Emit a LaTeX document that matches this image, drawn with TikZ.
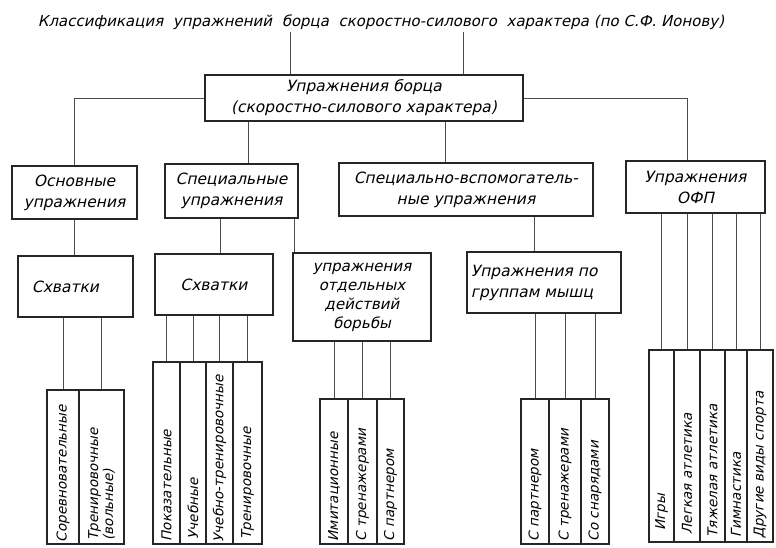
\documentclass[tikz,border=0pt]{standalone}
\usepackage{fontspec}
\setmainfont{DejaVu Sans}[FakeSlant=0.22]
\usetikzlibrary{calc}
\begin{document}
\begin{tikzpicture}[x=1pt,y=-1pt,
  box/.style={draw=black!85, line width=1.3pt, inner sep=2pt, align=center, font=\fontsize{15.5}{21}\selectfont},
  cell/.style={draw=black!85, line width=1.2pt, inner sep=0pt},
  vtext/.style={rotate=90, anchor=west, inner sep=0pt, align=left, font=\fontsize{13.6}{15}\selectfont},
  conn/.style={draw=black!70, line width=0.9pt},
  ttl/.style={font=\fontsize{15}{17}\selectfont, inner sep=2pt}]
\useasboundingbox (0,0) rectangle (776,547);
\fill[white] (0,0) rectangle (776,547);

% title
\node[ttl] (title) at (381,22) {Классификация\ \ упражнений\ \ борца\ \ скоростно-силового\ \ характера (по С.Ф. Ионову)};

% main box
\node[box, minimum width=318pt, minimum height=46pt] (main) at (364,98) {Упражнения борца\\(скоростно-силового характера)};

% level 2
\node[box, minimum width=125pt, minimum height=53pt] (A) at (74.5,192.5) {Основные\\упражнения};
\node[box, minimum width=133pt, minimum height=54pt] (B) at (231.5,191) {Специальные\\упражнения};
\node[box, minimum width=254pt, minimum height=53pt] (C) at (466,189.5) {Специально-вспомогатель-\\ные упражнения};
\node[box, minimum width=139pt, minimum height=52pt] (D) at (695.5,187) {Упражнения\\ОФП};

% level 3
\node[box, minimum width=115pt, minimum height=61pt] (S1) at (75.5,286.5) {\hspace*{-20pt}Схватки};
\node[box, minimum width=118pt, minimum height=61pt] (S2) at (214,284.5) {Схватки};
\node[box, minimum width=138pt, minimum height=88pt, font=\fontsize{15}{19}\selectfont] (E) at (362,297) {упражнения\\отдельных\\действий\\борьбы};
\node[box, minimum width=154pt, minimum height=61pt, align=left] (F) at (544,282.5) {Упражнения по\\группам мышц\hspace*{24pt}};

% lower group 1
\node[cell, minimum width=32pt, minimum height=154pt] (L1a) at (63,467) {};
\node[cell, minimum width=45pt, minimum height=154pt] (L1b) at (101.5,467) {};
% lower group 2
\node[cell, minimum width=27pt, minimum height=182pt] (L2a) at (166.5,453) {};
\node[cell, minimum width=26pt, minimum height=182pt] (L2b) at (193,453) {};
\node[cell, minimum width=27pt, minimum height=182pt] (L2c) at (219.5,453) {};
\node[cell, minimum width=29pt, minimum height=182pt] (L2d) at (247.5,453) {};
% lower group 3
\node[cell, minimum width=28pt, minimum height=145pt] (L3a) at (334,471.5) {};
\node[cell, minimum width=29pt, minimum height=145pt] (L3b) at (362.5,471.5) {};
\node[cell, minimum width=27pt, minimum height=145pt] (L3c) at (390.5,471.5) {};
% lower group 4
\node[cell, minimum width=28pt, minimum height=145pt] (L4a) at (535,471.5) {};
\node[cell, minimum width=32pt, minimum height=145pt] (L4b) at (565,471.5) {};
\node[cell, minimum width=28pt, minimum height=145pt] (L4c) at (595,471.5) {};
% lower group 5
\node[cell, minimum width=25pt, minimum height=192pt] (L5a) at (661.5,446) {};
\node[cell, minimum width=26pt, minimum height=192pt] (L5b) at (687,446) {};
\node[cell, minimum width=25pt, minimum height=192pt] (L5c) at (712.5,446) {};
\node[cell, minimum width=22pt, minimum height=192pt] (L5d) at (736,446) {};
\node[cell, minimum width=26pt, minimum height=192pt] (L5e) at (760,446) {};

% vertical texts
\node[vtext] (T1a) at ([yshift=2pt]L1a.south) {Соревновательные};
\node[vtext] (T1b) at ([yshift=4pt]L1b.south) {Тренировочные\\(вольные)};
\node[vtext] (T2a) at ([yshift=3pt]L2a.south) {Показательные};
\node[vtext] (T2b) at ([yshift=5pt]L2b.south) {Учебные};
\node[vtext] (T2c) at ([yshift=2pt]L2c.south) {Учебно-тренировочные};
\node[vtext] (T2d) at ([yshift=5pt]L2d.south) {Тренировочные};
\node[vtext] (T3a) at ([yshift=3pt]L3a.south) {Имитационные};
\node[vtext] (T3b) at ([yshift=3pt]L3b.south) {С тренажерами};
\node[vtext] (T3c) at ([yshift=3pt]L3c.south) {С партнером};
\node[vtext] (T4a) at ([yshift=3pt]L4a.south) {С партнером};
\node[vtext] (T4b) at ([yshift=3pt]L4b.south) {С тренажерами};
\node[vtext] (T4c) at ([yshift=3pt]L4c.south) {Со снарядами};
\node[vtext] (T5a) at ([yshift=12pt]L5a.south) {Игры};
\node[vtext] (T5b) at ([yshift=8pt]L5b.south) {Легкая атлетика};
\node[vtext] (T5c) at ([yshift=5pt]L5c.south) {Тяжелая атлетика};
\node[vtext] (T5d) at ([yshift=5pt]L5d.south) {Гимнастика};
\node[vtext] (T5e) at ([yshift=4pt]L5e.south) {Другие виды спорта};

% connectors: title to main
\draw[conn] ([xshift=-74pt]main.north) -- ([xshift=-74pt]main.north |- title.south);
\draw[conn] ([xshift=99pt]main.north) -- ([xshift=99pt]main.north |- title.south);
% main to level 2
\draw[conn] (main.west) -| (A.north);
\draw[conn] (main.east) -| ([xshift=-8.5pt]D.north);
\draw[conn] ([xshift=16.5pt]B.north) -- ([xshift=16.5pt]B.north |- main.south);
\draw[conn] ([xshift=-21pt]C.north) -- ([xshift=-21pt]C.north |- main.south);
% level 2 to level 3
\draw[conn] (S1.north -| A.south) -- (A.south);
\draw[conn] ([xshift=6pt]S2.north) -- ([xshift=6pt]S2.north |- B.south);
\draw[conn] ([xshift=2pt]E.north west) -- ([xshift=2pt]E.north west |- B.south);
\draw[conn] ([xshift=-10pt]F.north) -- ([xshift=-10pt]F.north |- C.south);
% level 3 to lower
\foreach \c in {L1a,L1b} {\draw[conn] (\c.north) -- (\c.north |- S1.south);}
\foreach \c in {L2a,L2b,L2c,L2d} {\draw[conn] (\c.north) -- (\c.north |- S2.south);}
\foreach \c in {L3a,L3b,L3c} {\draw[conn] (\c.north) -- (\c.north |- E.south);}
\foreach \c in {L4a,L4b,L4c} {\draw[conn] (\c.north) -- (\c.north |- F.south);}
\foreach \c in {L5a,L5b,L5c,L5d,L5e} {\draw[conn] (\c.north) -- (\c.north |- D.south);}
\end{tikzpicture}
\end{document}
